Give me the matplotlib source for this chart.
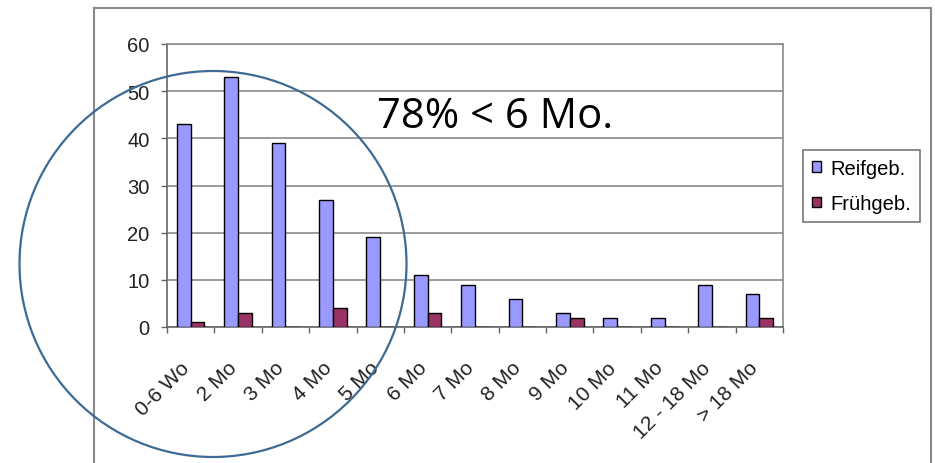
import numpy as np
import matplotlib
matplotlib.use("Agg")
import matplotlib.pyplot as plt
import matplotlib.transforms as mtransforms
from matplotlib.patches import Ellipse
from matplotlib.lines import Line2D

categories = ["0-6 Wo", "2 Mo", "3 Mo", "4 Mo", "5 Mo", "6 Mo", "7 Mo", "8 Mo",
              "9 Mo", "10 Mo", "11 Mo", "12 - 18 Mo", "> 18 Mo"]
reifgeb = [43, 53, 39, 27, 19, 11, 9, 6, 3, 2, 2, 9, 7]
fruehgeb = [1, 3, 0, 4, 0, 3, 0, 0, 2, 0, 0, 0, 2]
yticks = [0, 10, 20, 30, 40, 50, 60]

W, H = 935, 464
fig = plt.figure(figsize=(W / 100, H / 100), dpi=100)
fig.patch.set_facecolor("white")

ax = fig.add_axes([167 / W, 1 - 328 / H, (783 - 167) / W, (328 - 45) / H])
x = np.arange(len(categories))
w = 0.29
ax.bar(x - w / 2, reifgeb, w, color="#9999FF", edgecolor="black", linewidth=1.0,
       label="Reifgeb.", zorder=3)
ax.bar(x + w / 2, fruehgeb, w, color="#993366", edgecolor="black", linewidth=1.0,
       label="Frühgeb.", zorder=3)

ax.set_xlim(-0.5, len(categories) - 0.5)
ax.set_ylim(0, 60)
ax.set_yticks(yticks)
ax.set_yticklabels([str(v) for v in yticks], fontsize=14.5, family="Liberation Sans",
                   color="#222222")
ax.yaxis.grid(True, color="#8a8a8a", linewidth=1.2, zorder=0)
ax.set_axisbelow(True)
ax.tick_params(axis="y", length=4.5, width=1, color="#666666", pad=8)

ax.set_xticks(x)
ax.set_xticklabels(categories, rotation=45, ha="right", va="center",
                   rotation_mode="anchor",
                   fontsize=15, family="Liberation Sans", color="#222222")
ax.tick_params(axis="x", which="major", length=0, pad=27)
shift = mtransforms.ScaledTranslation(-4 / 100, 0, fig.dpi_scale_trans)
for lbl in ax.get_xticklabels():
    lbl.set_transform(lbl.get_transform() + shift)
ax.set_xticks(np.arange(len(categories) + 1) - 0.5, minor=True)
ax.tick_params(axis="x", which="minor", length=4, width=1, color="#666666")

for s in ax.spines.values():
    s.set_color("#8a8a8a")
    s.set_linewidth(1.2)
ax.spines["left"].set_color("#666666")
ax.spines["bottom"].set_color("#666666")

# outer chart frame
fc = "#8a8a8a"
fig.add_artist(Line2D([94 / W, 94 / W], [0, 1 - 9 / H], color=fc, lw=1.5, transform=fig.transFigure))
fig.add_artist(Line2D([94 / W, 931 / W], [1 - 9 / H, 1 - 9 / H], color=fc, lw=1.5, transform=fig.transFigure))
fig.add_artist(Line2D([931 / W, 931 / W], [0, 1 - 9 / H], color=fc, lw=1.5, transform=fig.transFigure))

# legend
leg = fig.legend(loc="upper left", bbox_to_anchor=(803 / W, 1 - 151 / H),
                 prop={"family": "Liberation Sans", "size": 14.5},
                 frameon=True, fancybox=False, edgecolor="#555555",
                 handlelength=0.45, handleheight=0.45, handletextpad=0.45,
                 borderpad=0.45, labelspacing=0.8, borderaxespad=0)
leg.get_frame().set_linewidth(1.2)

# annotation
fig.text(377 / W, 1 - 117 / H, "78% < 6 Mo.", fontsize=30, family="Open Sans",
         va="center", ha="left", color="black")
fig.add_artist(Ellipse((213 / W, 1 - 265 / H), 387 / W, 386 / H, fill=False,
                       edgecolor="#3d6b94", linewidth=1.6, transform=fig.transFigure,
                       clip_on=False, zorder=10))

fig.savefig("out.png", dpi=100)
